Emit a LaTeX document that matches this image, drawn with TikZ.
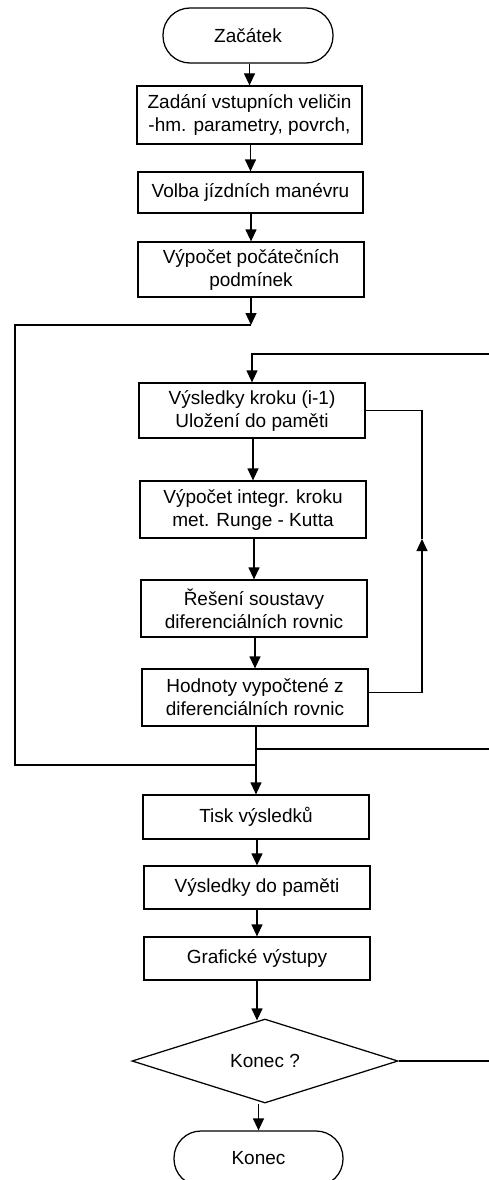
\documentclass[tikz,border=0pt]{standalone}
\usepackage{fontspec}
\setmainfont{Liberation Sans}
\usetikzlibrary{shapes.geometric,arrows.meta}
\begin{document}
\begin{tikzpicture}[x=1pt,y=-1pt,
  box/.style={draw,line width=1.25pt,rectangle,inner sep=2pt,align=center,font=\fontsize{19}{23}\selectfont},
  term/.style={box,rounded corners=27pt},
  dec/.style={draw,line width=1.25pt,diamond,inner sep=0pt,align=center,font=\fontsize{19}{23}\selectfont},
  arr/.style={line width=1.25pt,-{Triangle[length=12pt,width=11pt]}},
  ln/.style={line width=1.25pt}]
\useasboundingbox (0,0) rectangle (489,1180);
\clip (0,0) rectangle (489,1180);
% nodes
\node[term,minimum width=170pt,minimum height=55pt] (start) at (248,35.5) {Začátek};
\node[box,minimum width=225pt,minimum height=58pt] (b1) at (249.5,115) {Zadání vstupních veličin\\-hm. parametry, povrch,};
\node[box,minimum width=225pt,minimum height=41pt] (b2) at (250.5,192.5) {Volba jízdních manévru};
\node[box,minimum width=226pt,minimum height=55pt] (b3) at (251,269.5) {Výpočet počátečních\\podmínek};
\node[box,minimum width=226pt,minimum height=55pt] (b4) at (252,410.5) {Výsledky kroku (i-1)\\Uložení do paměti};
\node[box,minimum width=226pt,minimum height=57pt] (b5) at (253,509.5) {Výpočet integr. kroku\\met. Runge - Kutta};
\node[box,minimum width=226pt,minimum height=57pt] (b6) at (254,608.5) {Řešení soustavy\\diferenciálních rovnic};
\node[box,minimum width=226pt,minimum height=57pt] (b7) at (255,697.5) {Hodnoty vypočtené z\\diferenciálních rovnic};
\node[box,minimum width=226pt,minimum height=44pt] (b8) at (256,817) {Tisk výsledků};
\node[box,minimum width=226pt,minimum height=43pt] (b9) at (257,887.5) {Výsledky do paměti};
\node[box,minimum width=226pt,minimum height=43pt] (b10) at (257,958.5) {Grafické výstupy};
\node[dec,minimum width=266pt,minimum height=84pt] (dia) at (265,1061) {Konec ?};
\node[term,minimum width=169pt,minimum height=55pt] (konec) at (258.5,1158.5) {Konec};
% coordinates
\coordinate (j1) at (251,325);
\coordinate (lt) at (15,325);
\coordinate (lb) at (15,765);
\coordinate (j3) at (256,765);
\coordinate (j2) at (256,749);
\coordinate (rr) at (489,749);
\coordinate (tr) at (489,354);
\coordinate (ra) at (422,539);
\coordinate (dr) at (489,1061);
% connectors
\draw[arr] (start.south -| b1.north) -- (b1.north);
\draw[arr] (b1.south -| b2.north) -- (b2.north);
\draw[arr] (b2.south -| b3.north) -- (b3.north);
\draw[arr] (b3.south) -- (j1);
\draw[ln] (j1) -- (lt) -- (lb) -- (j3);
\draw[arr] (tr) -| (b4.north);
\draw[arr] (b4.south -| b5.north) -- (b5.north);
\draw[arr] (b5.south -| b6.north) -- (b6.north);
\draw[arr] (b6.south -| b7.north) -- (b7.north);
\draw[arr] ([yshift=5pt]b7.east) -| (ra);
\draw[ln] (ra) |- (b4.east);
\draw[arr] (b7.south -| b8.north) -- (b8.north);
\draw[ln] (j2) -- (rr);
\draw[arr] (b8.south -| b9.north) -- (b9.north);
\draw[arr] (b9.south -| b10.north) -- (b10.north);
\draw[arr] (b10.south) -- ([yshift=-2pt]b10.south |- dia.north);
\draw[arr] (konec.north |- dia.south) -- (konec.north);
\draw[ln] (dia.east) -- (dr);
\end{tikzpicture}
\end{document}
